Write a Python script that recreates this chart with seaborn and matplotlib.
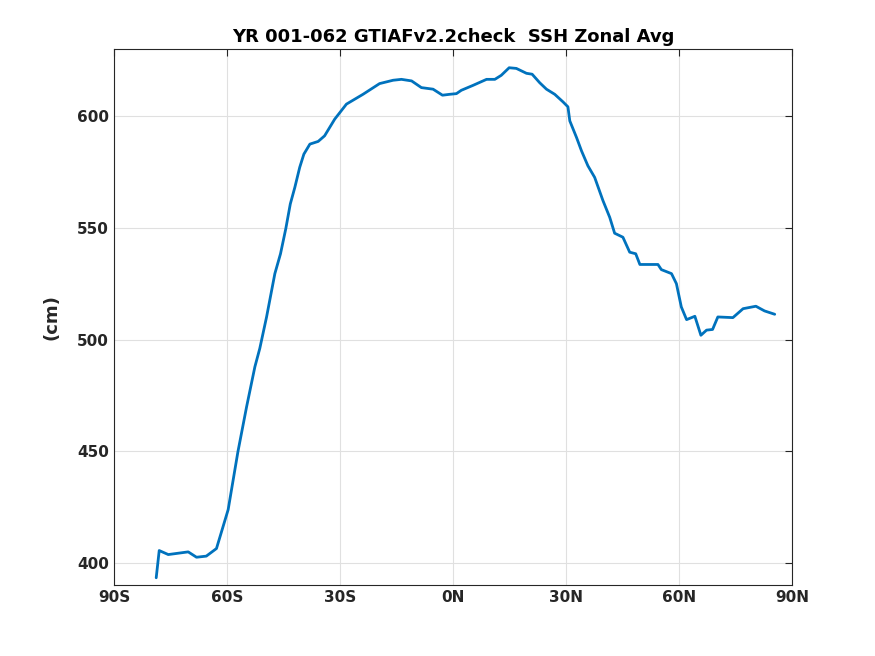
import matplotlib
matplotlib.use("Agg")
import matplotlib.pyplot as plt
import seaborn as sns
import pandas as pd

# zonal mean SSH
lat = [-78.8, -78.0, -75.6, -70.3, -68.1, -65.5, -62.8, -59.7, -57.1, -54.8,
       -52.6, -51.3, -49.5, -47.3, -45.8, -44.4, -43.2, -42.0, -40.7, -39.6,
       -38.0, -35.8, -34.1, -31.4, -28.3, -23.9, -19.5, -15.9, -13.7, -11.0,
       -8.4, -5.3, -2.8, -0.9, 0.9, 2.2, 5.3, 8.9, 11.1, 12.8,
       14.9, 16.8, 19.5, 21.0, 23.0, 24.8, 27.0, 29.2, 30.5, 31.0,
       32.8, 34.1, 35.8, 37.6, 39.8, 41.6, 42.9, 45.1, 46.9, 48.5,
       49.6, 54.4, 55.3, 58.0, 59.3, 60.6, 62.0, 64.2, 65.8, 67.3,
       68.9, 70.3, 74.3, 77.0, 80.4, 82.7, 85.4]
ssh = [393.3, 405.5, 403.7, 404.9, 402.5, 403.0, 406.4, 423.8, 449.8, 469.9,
       487.8, 496.0, 510.1, 529.5, 538.4, 549.6, 560.7, 568.1, 577.1, 583.0,
       587.5, 588.7, 591.2, 598.7, 605.4, 609.8, 614.6, 616.1, 616.5, 615.8,
       612.8, 612.1, 609.4, 609.8, 610.1, 611.6, 613.8, 616.5, 616.5, 618.3,
       621.7, 621.4, 619.2, 618.8, 615.0, 612.1, 609.8, 606.4, 604.2, 597.9,
       590.4, 584.5, 577.8, 572.6, 562.2, 554.7, 547.6, 545.8, 539.1, 538.4,
       533.6, 533.6, 531.3, 529.5, 525.0, 514.6, 508.9, 510.4, 501.9, 504.2,
       504.5, 510.1, 509.8, 513.8, 514.9, 512.8, 511.3]

xticks = [-90, -60, -30, 0, 30, 60, 90]
xticklabels = ['90S', '60S', '30S', '0N', '30N', '60N', '90N']
yticks = [400, 450, 500, 550, 600]

df = pd.DataFrame({'lat': lat, 'ssh': ssh})

sns.set_style("whitegrid")
plt.rcParams['font.family'] = ['DejaVu Sans']
plt.rcParams['font.weight'] = 'bold'

fig = plt.figure(figsize=(8.75, 6.56), dpi=100)
ax = fig.add_axes([0.1303, 0.108, 0.7749, 0.817])

sns.lineplot(data=df, x='lat', y='ssh', ax=ax, color='#0072BD', linewidth=2)

ax.set_xlim(-90, 90)
ax.set_ylim(390, 630)
ax.set_xticks(xticks)
ax.set_xticklabels(xticklabels)
ax.set_yticks(yticks)
ax.grid(True, color='#e0e0e0', linewidth=0.8)
for s in ax.spines.values():
    s.set_color('#262626')
    s.set_linewidth(0.8)
ax.tick_params(direction='in', length=5, width=0.8, color='#262626',
               top=True, right=True, labelsize=11, labelcolor='#262626')
for lbl in ax.get_xticklabels() + ax.get_yticklabels():
    lbl.set_fontweight('bold')

ax.set_xlabel('')
ax.set_ylabel('(cm)', fontsize=13, fontweight='bold', color='#262626', labelpad=12)
ax.set_title('YR 001-062 GTIAFv2.2check  SSH Zonal Avg', fontsize=13,
             fontweight='bold', color='black', pad=5)

fig.savefig('out.png', dpi=100)
